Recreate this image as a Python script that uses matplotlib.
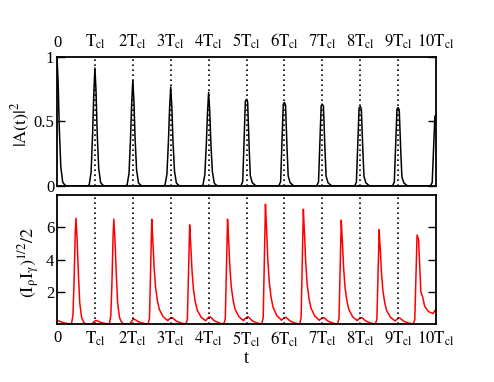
import numpy as np
import matplotlib
matplotlib.use('Agg')
import matplotlib.pyplot as plt

plt.rcParams['font.family'] = ['Liberation Serif', 'DejaVu Serif']
plt.rcParams['mathtext.fontset'] = 'stix'

# cycles in units of T_cl
cycles = [0, 1, 2, 3, 4, 5, 6, 7, 8, 9, 10]
tick_labels = ['0'] + [r'$\mathrm{T_{cl}}$'] + [r'$\mathrm{%dT_{cl}}$' % k for k in range(2, 11)]

# top panel: |A(t)|^2 peak heights at each cycle
top_peaks = [1.0, 0.915, 0.82, 0.767, 0.725, 0.672, 0.647, 0.635, 0.616, 0.608, 0.55]
top_off = [-0.2, -0.15, -0.1, -0.06, -0.03, 0.0, 0.03, 0.06, 0.1, 0.15, 0.2, 0.25]
top_sharp = [0, 0.01, 0.12, 0.45, 0.78, 1.0, 0.8, 0.45, 0.15, 0.03, 0.01, 0]
top_flat = [0, 0.0, 0.05, 0.6, 0.98, 1.0, 0.97, 0.55, 0.12, 0.04, 0.02, 0]

# bottom panel: pulses at k+0.5 and small bumps at each cycle
bot_peaks = [6.56, 6.5, 6.5, 6.15, 6.5, 7.43, 7.12, 6.44, 5.85, 5.52]
bot_shape_id = [0, 0, 1, 1, 1, 1, 1, 1, 1, 2]
bot_off = [[-0.12, -0.08, -0.05, -0.02, 0, 0.03, 0.06, 0.1, 0.15, 0.2, 0.26],
           [-0.1, -0.06, -0.03, 0, 0.03, 0.06, 0.1, 0.15, 0.2, 0.3, 0.4, 0.5],
           [-0.1, -0.06, -0.03, 0, 0.04, 0.1, 0.15, 0.2, 0.3, 0.4, 0.5]]
bot_shape = [[0, 0.08, 0.4, 0.85, 1, 0.8, 0.5, 0.2, 0.06, 0.02, 0],
             [0, 0.05, 0.5, 1, 0.8, 0.55, 0.35, 0.22, 0.14, 0.07, 0.04, 0],
             [0, 0.05, 0.5, 1, 0.95, 0.36, 0.3, 0.2, 0.14, 0.12, 0.11]]
bump_h = [0.2, 0.22, 0.3, 0.4, 0.45, 0.45, 0.42, 0.4, 0.4, 0.38, 0.35]
bump_off = [-0.08, -0.04, 0, 0.04, 0.08, 0.15, 0.25, 0.35]
bump_shape = [0, 0.5, 0.9, 1.0, 0.8, 0.45, 0.2, 0.05]

t = np.linspace(0, 10, 1001)
A2 = np.zeros_like(t)
for k, h in zip(cycles, top_peaks):
    shp = top_sharp if k < 5 else top_flat
    A2 += h * np.interp(t, k + np.array(top_off), shp, left=0, right=0)

I = np.zeros_like(t)
for k, h in zip(cycles, bump_h):
    I += h * np.interp(t, k + np.array(bump_off), bump_shape, left=0, right=0)
for k, (h, s) in enumerate(zip(bot_peaks, bot_shape_id)):
    I += h * np.interp(t, k + 0.5 + np.array(bot_off[s]), bot_shape[s], left=0, right=0)

fig = plt.figure(figsize=(4.94, 3.82), dpi=100)
ax1 = fig.add_axes([0.1154, 0.5131, 0.7672, 0.3377])
ax2 = fig.add_axes([0.1154, 0.1518, 0.7672, 0.3377])

ax1.plot(t, A2, color='black', lw=1.1)
ax2.plot(t, I, color='red', lw=1.1)

for ax in (ax1, ax2):
    for k in cycles[1:-1]:
        ax.axvline(k, color='black', ls=(0, (1, 2)), lw=1.2)
    ax.set_xlim(0, 10)
    ax.set_xticks(cycles)
    ax.tick_params(axis='x', length=0, labelsize=12, pad=4)
    ax.tick_params(axis='y', direction='in', length=6, width=1, left=True, right=True,
                   labelsize=12, pad=2)
    for sp in ax.spines.values():
        sp.set_linewidth(1.3)

ax1.set_ylim(0, 1)
ax1.set_yticks([0, 0.5, 1])
ax1.set_yticklabels(['0', '0.5', '1'])
ax1.xaxis.tick_top()
ax1.set_xticklabels(tick_labels)
ax1.set_ylabel(r'$\mathrm{|A(t)|^2}$', fontsize=13)
ax1.yaxis.set_label_coords(-0.066, 0.48)

ax2.set_ylim(0, 8)
ax2.set_yticks([2, 4, 6])
ax2.set_xticklabels(tick_labels)
ax2.set_ylabel(r'$\mathrm{(I_{\rho}I_{\gamma})^{1/2}/2}$', fontsize=13)
ax2.yaxis.set_label_coords(-0.04, 0.48)
ax2.set_xlabel('t', fontsize=13, labelpad=1)

fig.savefig('out.png', dpi=100)
